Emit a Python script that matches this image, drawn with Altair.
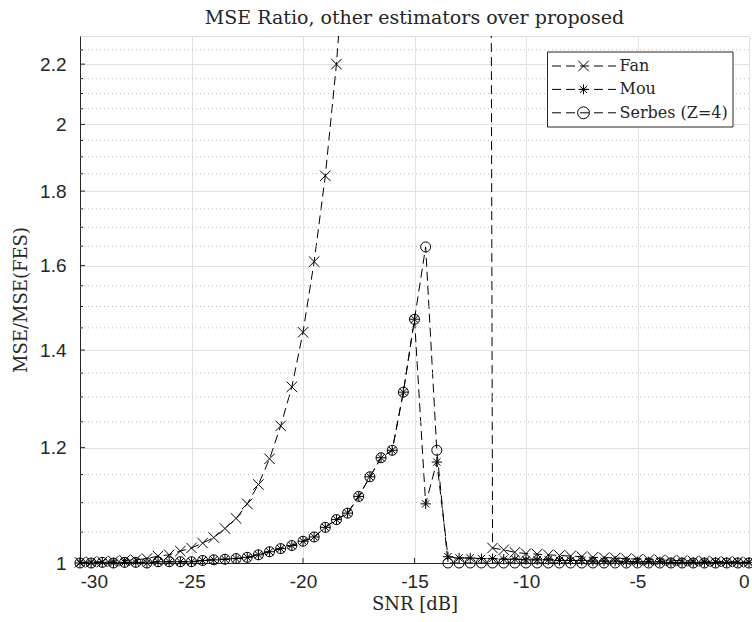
import altair as alt
import pandas as pd

# SNR grid in dB (-30 ... 0, step 0.5)
snr = [-30 + 0.5 * i for i in range(61)]

series_names = ["Fan", "Mou", "Serbes (Z=4)"]

# MSE ratio of each estimator over the proposed one (FES)
fan = [1.001, 1.002, 1.002, 1.003, 1.004, 1.005, 1.007, 1.011, 1.013, 1.019,
       1.024, 1.032, 1.041, 1.056, 1.073, 1.098, 1.132, 1.179, 1.242, 1.321,
       1.440, 1.610, 1.844, 2.200, 2.80, 3.6, 4.8, 6.5, 9.0, 13.0,
       20.0, 32.0, 55.0, 100.0, 200.0, 500.0, 1500.0, 1.024, 1.021, 1.017,
       1.015, 1.014, 1.013, 1.012, 1.011, 1.010, 1.009, 1.0085, 1.008, 1.007,
       1.006, 1.005, 1.005, 1.004, 1.004, 1.003, 1.003, 1.002, 1.002, 1.002, 1.001]

mou = [1.000, 1.000, 1.001, 1.000, 1.001, 1.001, 1.000, 1.002, 1.002, 1.002,
       1.002, 1.004, 1.005, 1.006, 1.007, 1.009, 1.013, 1.018, 1.023, 1.028,
       1.035, 1.042, 1.058, 1.071, 1.082, 1.111, 1.146, 1.181, 1.195, 1.310,
       1.470, 1.098, 1.173, 1.010, 1.008, 1.008, 1.007, 1.007, 1.006, 1.006,
       1.005, 1.005, 1.005, 1.004, 1.004, 1.004, 1.003, 1.003, 1.003, 1.002,
       1.002, 1.002, 1.002, 1.001, 1.001, 1.001, 1.001, 1.001, 1.001, 1.001, 1.001]

serbes = [1.000, 1.000, 1.001, 1.000, 1.001, 1.001, 1.000, 1.002, 1.002, 1.002,
          1.002, 1.004, 1.005, 1.006, 1.007, 1.009, 1.013, 1.018, 1.023, 1.028,
          1.035, 1.042, 1.058, 1.071, 1.082, 1.111, 1.146, 1.181, 1.195, 1.310,
          1.470, 1.648, 1.195, 1.000, 1.000, 1.000, 1.000, 1.000, 1.000, 1.000,
          1.000, 1.000, 1.000, 1.000, 1.000, 1.000, 1.000, 1.000, 1.000, 1.000,
          1.000, 1.000, 1.000, 1.000, 1.000, 1.000, 1.000, 1.000, 1.000, 1.000, 1.000]

x_ticks = [-30, -25, -20, -15, -10, -5, 0]
y_ticks = [1, 1.2, 1.4, 1.6, 1.8, 2, 2.2]
y_minor = [1.05, 1.1, 1.15, 1.25, 1.3, 1.35, 1.45, 1.5, 1.55, 1.65, 1.7, 1.75,
           1.85, 1.9, 1.95, 2.05, 2.1, 2.15, 2.25]

W, H = 669, 527
INK = "#262626"
SERIF = "DejaVu Serif"
SANS = "Liberation Sans"

X_PATH = "M-1,-1L1,1M-1,1L1,-1"
STAR_PATH = "M-1,0L1,0M0,-1L0,1M-0.72,-0.72L0.72,0.72M-0.72,0.72L0.72,-0.72"
shape_range = [X_PATH, STAR_PATH, "circle"]
size_range = [110, 100, 140]
DASH = [9, 5]

df = pd.DataFrame({
    "snr": snr * 3,
    "ratio": fan + mou + serbes,
    "series": [series_names[0]] * len(snr) + [series_names[1]] * len(snr) + [series_names[2]] * len(snr),
})

x_scale = alt.Scale(domain=[-30, 0], nice=False, zero=False)
y_scale = alt.Scale(type="log", domain=[1, 2.3], nice=False)

x_axis = alt.Axis(values=x_ticks, labelExpr="datum.value + ''", title="SNR [dB]",
                  grid=True, gridColor="#e2e2e2", gridWidth=1, ticks=False,
                  domainColor=INK, domainWidth=1,
                  labelFont=SANS, labelFontSize=19, labelColor=INK, labelPadding=9,
                  titleFont=SERIF, titleFontSize=18, titleFontWeight="normal",
                  titleColor=INK, titlePadding=4)
y_axis = alt.Axis(values=y_ticks, labelExpr="datum.value + ''", title="MSE/MSE(FES)",
                  grid=True, gridColor="#e2e2e2", gridWidth=1, ticks=False,
                  domainColor=INK, domainWidth=1,
                  labelFont=SANS, labelFontSize=19, labelColor=INK, labelPadding=14,
                  titleFont=SERIF, titleFontSize=18, titleFontWeight="normal",
                  titleColor=INK, titlePadding=9)

base = alt.Chart(df)

# dashed curves (first layer carries the axes)
lines = base.mark_line(color="black", strokeWidth=1, strokeDash=DASH, clip=True).encode(
    x=alt.X("snr:Q", scale=x_scale, axis=x_axis),
    y=alt.Y("ratio:Q", scale=y_scale, axis=y_axis),
    detail="series:N",
)

# dotted minor grid
minor_df = pd.DataFrame({"ratio": y_minor})
minor_grid = alt.Chart(minor_df).mark_rule(
    color="#bcbcbc", strokeWidth=1, strokeDash=[1, 3]
).encode(y=alt.Y("ratio:Q", scale=y_scale))

# inward tick marks
ytick_df = pd.DataFrame({"ratio": y_ticks})
ytick_major = alt.Chart(ytick_df).mark_rule(color=INK, strokeWidth=1).encode(
    y=alt.Y("ratio:Q", scale=y_scale), x=alt.value(0), x2=alt.value(5))
ytick_minor = alt.Chart(minor_df).mark_rule(color=INK, strokeWidth=1).encode(
    y=alt.Y("ratio:Q", scale=y_scale), x=alt.value(0), x2=alt.value(3))
xtick_df = pd.DataFrame({"snr": x_ticks})
xtick_major = alt.Chart(xtick_df).mark_rule(color=INK, strokeWidth=1).encode(
    x=alt.X("snr:Q", scale=x_scale), y=alt.value(H), y2=alt.value(H - 5))

points = base.transform_filter("datum.ratio <= 2.3").mark_point(
    filled=False, color="black", strokeWidth=1, opacity=1
).encode(
    x=alt.X("snr:Q", scale=x_scale),
    y=alt.Y("ratio:Q", scale=y_scale),
    shape=alt.Shape("series:N", scale=alt.Scale(domain=series_names, range=shape_range), legend=None),
    size=alt.Size("series:N", scale=alt.Scale(domain=series_names, range=size_range), legend=None),
)

# legend box in the upper right corner
one = pd.DataFrame({"k": [0]})
LX0, LX1, LY0, LY1 = 467.5, 653, 16, 91
legend_layers = [
    alt.Chart(one).mark_rect(fill="white", stroke=INK, strokeWidth=1).encode(
        x=alt.value(LX0), x2=alt.value(LX1), y=alt.value(LY0), y2=alt.value(LY1))
]
for i, name in enumerate(series_names):
    ry = 30 + 23.4 * i
    legend_layers.append(
        alt.Chart(one).mark_rule(color="black", strokeWidth=1, strokeDash=DASH).encode(
            x=alt.value(472), x2=alt.value(536), y=alt.value(ry)))
    legend_layers.append(
        alt.Chart(one).mark_point(shape=shape_range[i], size=size_range[i], filled=False,
                                  color="black", strokeWidth=1, opacity=1).encode(
            x=alt.value(503.5), y=alt.value(ry)))
    legend_layers.append(
        alt.Chart(one).mark_text(text=name, align="left", baseline="middle", font=SERIF,
                                 fontSize=16, color=INK).encode(
            x=alt.value(539.5), y=alt.value(ry)))

chart = alt.layer(
    lines, minor_grid, ytick_major, ytick_minor, xtick_major, points, *legend_layers
).properties(
    width=W, height=H,
    title=alt.TitleParams("MSE Ratio, other estimators over proposed", font=SERIF,
                          fontSize=19, fontWeight="normal", color=INK,
                          anchor="middle", offset=8),
    padding={"left": 80, "top": 36, "right": 3, "bottom": 59},
    autosize=alt.AutoSizeParams(type="none"),
).configure_view(stroke="transparent").configure(background="white")

chart.save("out.html", embed_options={"renderer": "svg", "actions": False})
